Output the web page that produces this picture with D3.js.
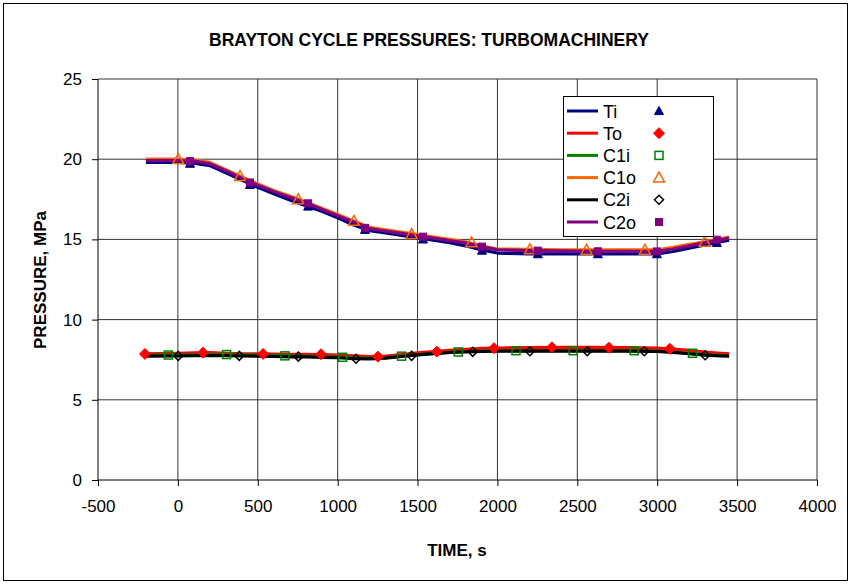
<!DOCTYPE html>
<html><head><meta charset="utf-8">
<script src="https://cdn.jsdelivr.net/npm/d3@7"></script>
<style>body{margin:0;background:#fff}svg{display:block}text{font-family:"Liberation Sans",Arial,sans-serif}</style>
</head><body><svg id="c" width="851" height="584"></svg>
<script>
// ---- data ----
const title = "BRAYTON CYCLE PRESSURES: TURBOMACHINERY";
const xTicks = [-500, 0, 500, 1000, 1500, 2000, 2500, 3000, 3500, 4000];
const yTicks = [0, 5, 10, 15, 20, 25];
const seriesNames = ["Ti", "To", "C1i", "C1o", "C2i", "C2o"];
const lineTime = [-200, 0, 100, 200, 300, 400, 500, 600, 700, 800, 900, 1000, 1100, 1200, 1300, 1400, 1500, 1600, 1700, 1800, 1900, 2000, 2200, 2400, 2600, 2800, 3000, 3100, 3200, 3300, 3400, 3450];
const Ti  = [19.8, 19.8, 19.75, 19.6, 19.15, 18.7, 18.25, 17.85, 17.45, 17.1, 16.75, 16.35, 15.9, 15.55, 15.4, 15.25, 15.1, 14.95, 14.8, 14.6, 14.35, 14.15, 14.1, 14.1, 14.1, 14.1, 14.1, 14.25, 14.45, 14.65, 14.85, 14.95];
const To  = [7.86, 7.9, 7.92, 7.94, 7.9, 7.87, 7.86, 7.85, 7.84, 7.84, 7.82, 7.78, 7.74, 7.7, 7.72, 7.82, 7.92, 8.0, 8.08, 8.15, 8.2, 8.23, 8.26, 8.27, 8.27, 8.25, 8.22, 8.16, 8.08, 7.98, 7.9, 7.86];
const C1i = [7.78, 7.8, 7.81, 7.82, 7.82, 7.8, 7.78, 7.77, 7.74, 7.72, 7.7, 7.66, 7.62, 7.6, 7.63, 7.72, 7.82, 7.9, 7.96, 8.01, 8.04, 8.06, 8.06, 8.06, 8.06, 8.06, 8.04, 7.98, 7.9, 7.82, 7.77, 7.75];
const C1o = [20.0, 20.0, 19.95, 19.8, 19.35, 18.9, 18.45, 18.05, 17.7, 17.35, 16.95, 16.55, 16.15, 15.75, 15.6, 15.45, 15.3, 15.15, 15.0, 14.85, 14.6, 14.4, 14.38, 14.35, 14.35, 14.35, 14.35, 14.5, 14.7, 14.85, 15.05, 15.15];
const C2i = [7.72, 7.73, 7.75, 7.76, 7.75, 7.73, 7.72, 7.7, 7.68, 7.67, 7.65, 7.62, 7.56, 7.55, 7.6, 7.7, 7.8, 7.88, 7.95, 7.99, 8.01, 8.03, 8.03, 8.03, 8.03, 8.03, 8.02, 7.96, 7.87, 7.78, 7.73, 7.72];
const C2o = [19.92, 19.92, 19.88, 19.72, 19.28, 18.82, 18.38, 17.98, 17.62, 17.28, 16.88, 16.48, 16.08, 15.68, 15.52, 15.38, 15.22, 15.08, 14.92, 14.78, 14.55, 14.35, 14.3, 14.28, 14.26, 14.25, 14.25, 14.4, 14.6, 14.8, 14.98, 15.08];
// marker points
const TiMarkT  = [76, 451, 815, 1171, 1534, 1903, 2253, 2629, 2998, 3373];
const TiMarkP  = [19.72, 18.4, 17.05, 15.6, 15.0, 14.3, 14.08, 14.08, 14.08, 14.78];
const ToMarkT  = [-206, 157, 533, 896, 1252, 1621, 1978, 2341, 2698, 3079];
const ToMarkP  = [7.86, 7.94, 7.86, 7.84, 7.69, 8.0, 8.22, 8.27, 8.25, 8.18];
const C1iMarkT = [-60, 305, 670, 1031, 1400, 1755, 2116, 2474, 2856, 3221];
const C1iMarkP = [7.79, 7.82, 7.74, 7.65, 7.72, 7.98, 8.06, 8.06, 8.06, 7.9];
const C1oMarkT = [2, 389, 754, 1102, 1463, 1838, 2203, 2558, 2923, 3298];
const C1oMarkP = [20.0, 18.95, 17.5, 16.15, 15.33, 14.82, 14.38, 14.35, 14.35, 14.85];
const C2iMarkT = [2, 384, 754, 1115, 1463, 1845, 2203, 2562, 2919, 3300];
const C2iMarkP = [7.73, 7.74, 7.69, 7.56, 7.74, 7.99, 8.03, 8.03, 8.03, 7.78];
const C2oMarkT = [76, 451, 815, 1171, 1534, 1903, 2253, 2629, 2998, 3373];
const C2oMarkP = [19.88, 18.55, 17.25, 15.72, 15.17, 14.55, 14.3, 14.26, 14.25, 14.98];

const seriesColors = ["#000080", "#FF0000", "#008000", "#FF6600", "#000000", "#800080"];
const seriesLines = [Ti, To, C1i, C1o, C2i, C2o];
const seriesMarkT = [TiMarkT, ToMarkT, C1iMarkT, C1oMarkT, C2iMarkT, C2oMarkT];
const seriesMarkP = [TiMarkP, ToMarkP, C1iMarkP, C1oMarkP, C2iMarkP, C2oMarkP];
const markerKind = ["triF", "diaF", "sqO", "triO", "diaO", "sqF"];

// ---- layout ----
const svg = d3.select("#c");
const L = 98, R = 817, T = 79, B = 480;
const x = d3.scaleLinear().domain([-500, 4000]).range([L, R]);
const y = d3.scaleLinear().domain([0, 25]).range([B, T]);
const font = '"Liberation Sans",Arial,sans-serif';

svg.append("rect").attr("x", 3.5).attr("y", 3.5).attr("width", 844).attr("height", 577)
  .attr("fill", "#fff").attr("stroke", "#000").attr("stroke-width", 1);

// grid
const g = svg.append("g");
g.selectAll(".hg").data(yTicks.filter(d => d > 0)).join("line")
  .attr("x1", L).attr("x2", R).attr("y1", d => y(d)).attr("y2", d => y(d))
  .attr("stroke", "#333").attr("stroke-width", 1);
g.selectAll(".vg").data(xTicks.filter(d => d > -500)).join("line")
  .attr("y1", T).attr("y2", B).attr("x1", d => x(d)).attr("x2", d => x(d))
  .attr("stroke", "#333").attr("stroke-width", 1);

// axes
const xAxis = d3.axisBottom(x).tickValues(xTicks).tickSize(6).tickPadding(14).tickFormat(d => String(d));
const yAxis = d3.axisLeft(y).tickValues(yTicks).tickSize(6).tickPadding(10).tickFormat(d => String(d));
const gx = svg.append("g").attr("transform", `translate(0,${B})`).call(xAxis);
const gy = svg.append("g").attr("transform", `translate(${L},0)`).call(yAxis);
[gx, gy].forEach(a => {
  a.select(".domain").attr("stroke", "#000").attr("d", a === gx ? `M${L},0H${R}` : `M0,${T}V${B}`);
  a.selectAll(".tick line").attr("stroke", "#000");
  a.selectAll("text").attr("font-family", font).attr("font-size", 17).attr("fill", "#000");
});

// lines
const line = d3.line().x((d, i) => x(lineTime[i])).y(d => y(d));
const plot = svg.append("g");
seriesLines.forEach((vals, k) => {
  plot.append("path").attr("d", line(vals)).attr("fill", "none")
    .attr("stroke", seriesColors[k]).attr("stroke-width", 3.2).attr("stroke-linejoin", "round");
});

function marker(sel, kind, color, cx, cy) {
  if (kind === "triF" || kind === "triO") {
    const s = kind === "triF" ? 4.5 : 5.5;
    sel.append("path").attr("d", `M${cx},${cy - s}L${cx + s},${cy + s * 0.8}L${cx - s},${cy + s * 0.8}Z`)
      .attr("fill", kind === "triF" ? color : "none").attr("stroke", color).attr("stroke-width", kind === "triF" ? 1 : 1.5);
  } else if (kind === "diaF" || kind === "diaO") {
    const s = kind === "diaF" ? 5.5 : 4.5;
    sel.append("path").attr("d", `M${cx},${cy - s}L${cx + s},${cy}L${cx},${cy + s}L${cx - s},${cy}Z`)
      .attr("fill", kind === "diaF" ? color : "#fff").attr("fill-opacity", kind === "diaF" ? 1 : 0)
      .attr("stroke", color).attr("stroke-width", kind === "diaF" ? 1 : 1.5);
  } else {
    const s = kind === "sqF" ? 3.5 : 4;
    sel.append("rect").attr("x", cx - s).attr("y", cy - s).attr("width", 2 * s).attr("height", 2 * s)
      .attr("fill", kind === "sqF" ? color : "none").attr("stroke", color).attr("stroke-width", kind === "sqF" ? 1 : 1.5);
  }
}
seriesMarkT.forEach((ts, k) => {
  const mg = plot.append("g");
  ts.forEach((t, i) => marker(mg, markerKind[k], seriesColors[k], x(t), y(seriesMarkP[k][i])));
});

// titles
svg.append("text").attr("x", 429).attr("y", 46).attr("text-anchor", "middle")
  .attr("font-family", font).attr("font-weight", "bold").attr("font-size", 17.5).text(title);
svg.append("text").attr("x", 457).attr("y", 556).attr("text-anchor", "middle")
  .attr("font-family", font).attr("font-weight", "bold").attr("font-size", 17).text("TIME, s");
svg.append("text").attr("transform", "translate(46,280) rotate(-90)").attr("text-anchor", "middle")
  .attr("font-family", font).attr("font-weight", "bold").attr("font-size", 17).text("PRESSURE, MPa");

// legend
const lg = svg.append("g");
lg.append("rect").attr("x", 563.5).attr("y", 96.5).attr("width", 150).attr("height", 140)
  .attr("fill", "#fff").attr("stroke", "#000").attr("stroke-width", 1);
seriesNames.forEach((n, k) => {
  const cy = 111 + k * 22.2;
  lg.append("line").attr("x1", 567).attr("x2", 598).attr("y1", cy).attr("y2", cy)
    .attr("stroke", seriesColors[k]).attr("stroke-width", 3);
  lg.append("text").attr("x", 603).attr("y", cy + 6.5).attr("font-family", font).attr("font-size", 18).text(n);
  marker(lg, markerKind[k], seriesColors[k], 659, cy);
});
</script></body></html>
